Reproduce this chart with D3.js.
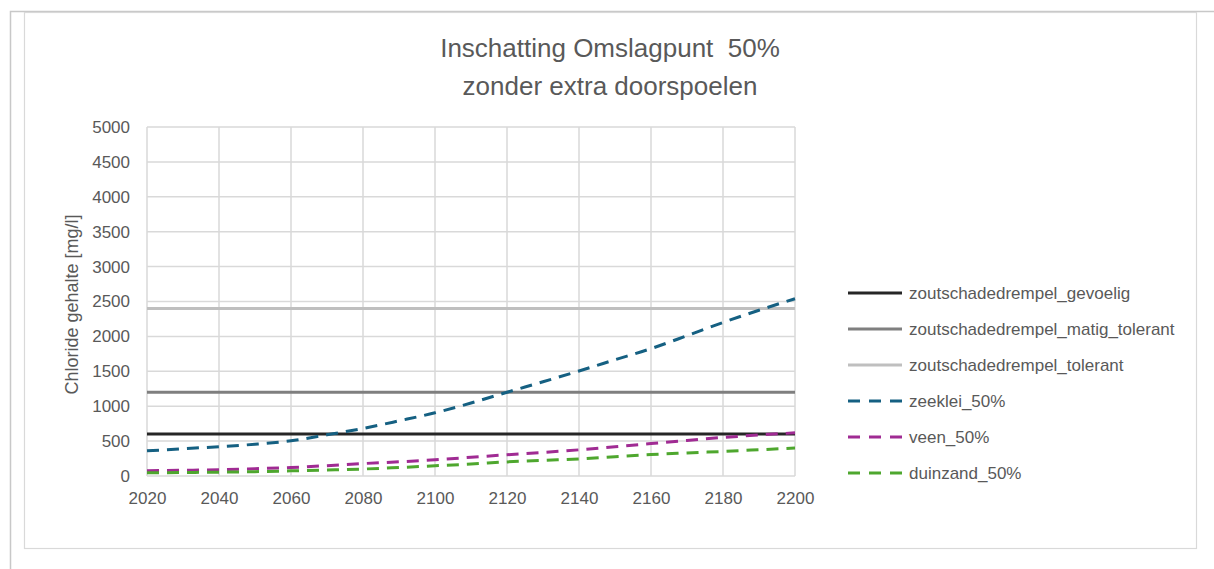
<!DOCTYPE html>
<html>
<head>
<meta charset="utf-8">
<script src="https://cdn.jsdelivr.net/npm/d3@7"></script>
<style>
  body { margin: 0; background: #fff; }
  text { font-family: "Liberation Sans", Arial, sans-serif; fill: #595959; }
</style>
</head>
<body>
<div id="chart"></div>
<script>
// jaren (x-as)
var years = [2020, 2030, 2040, 2050, 2060, 2070, 2080, 2090, 2100, 2110,
             2120, 2130, 2140, 2150, 2160, 2170, 2180, 2190, 2200];

// drempels (constant)
var gevoelig = 600;
var matigTolerant = 1200;
var tolerant = 2400;

// geschatte reeksen
var zeeklei = [360, 390, 420, 455, 505, 590, 681, 790, 905, 1045,
               1200, 1350, 1505, 1665, 1825, 2010, 2200, 2375, 2540];
var veen = [75, 82, 90, 105, 122, 148, 178, 203, 232, 268,
            305, 338, 375, 420, 465, 510, 552, 588, 618];
var duinzand = [45, 50, 55, 62, 74, 86, 100, 122, 146, 172,
                202, 225, 245, 277, 307, 330, 352, 376, 400];

var yTicks = [0, 500, 1000, 1500, 2000, 2500, 3000, 3500, 4000, 4500, 5000];
var xTicks = [2020, 2040, 2060, 2080, 2100, 2120, 2140, 2160, 2180, 2200];

var width = 1214, height = 569;
var margin = {top: 127, left: 147, right: 419, bottom: 93};
var plotW = width - margin.left - margin.right,
    plotH = height - margin.top - margin.bottom;

var xScale = d3.scaleLinear().domain([2020, 2200]).range([0, plotW]);
var yScale = d3.scaleLinear().domain([0, 5000]).range([plotH, 0]);

var series = [
  {name: 'zoutschadedrempel_gevoelig', values: years.map(function(){ return gevoelig; }), color: '#262626', dash: null},
  {name: 'zoutschadedrempel_matig_tolerant', values: years.map(function(){ return matigTolerant; }), color: '#7f7f7f', dash: null},
  {name: 'zoutschadedrempel_tolerant', values: years.map(function(){ return tolerant; }), color: '#bfbfbf', dash: null},
  {name: 'zeeklei_50%', values: zeeklei, color: '#156082', dash: '12,8'},
  {name: 'veen_50%', values: veen, color: '#a02b93', dash: '12,8'},
  {name: 'duinzand_50%', values: duinzand, color: '#4ea72e', dash: '12,8'}
];

var svg = d3.select('#chart').append('svg')
  .attr('width', width)
  .attr('height', height);

// buitenkader
svg.append('path')
  .attr('d', 'M10.5,569 L10.5,11.5 L1214,11.5')
  .style('fill', 'none')
  .style('stroke', '#c8c8c8')
  .style('stroke-width', 1.5);
svg.append('rect')
  .attr('x', 24.5).attr('y', 12.5)
  .attr('width', 1172).attr('height', 536)
  .style('fill', '#fff')
  .style('stroke', '#d9d9d9')
  .style('stroke-width', 1.2);

// titel
var title = svg.append('text')
  .attr('x', 610).attr('y', 57)
  .attr('text-anchor', 'middle')
  .style('font-size', '26px')
  .style('white-space', 'pre');
title.append('tspan').attr('x', 610).text('Inschatting Omslagpunt  50%');
title.append('tspan').attr('x', 610).attr('dy', 38).text('zonder extra doorspoelen');

var g = svg.append('g')
  .attr('transform', 'translate(' + margin.left + ',' + margin.top + ')');

// rasterlijnen
g.selectAll('line.hgrid').data(yTicks).enter().append('line')
  .attr('class', 'hgrid')
  .attr('x1', 0).attr('x2', plotW)
  .attr('y1', function(d){ return yScale(d); })
  .attr('y2', function(d){ return yScale(d); })
  .style('stroke', '#d9d9d9')
  .style('stroke-width', 1.5);
g.selectAll('line.vgrid').data(xTicks).enter().append('line')
  .attr('class', 'vgrid')
  .attr('y1', 0).attr('y2', plotH)
  .attr('x1', function(d){ return xScale(d); })
  .attr('x2', function(d){ return xScale(d); })
  .style('stroke', '#d9d9d9')
  .style('stroke-width', 1.5);

// assen
var yAxis = d3.axisLeft(yScale).tickValues(yTicks).tickSize(0).tickPadding(17).tickFormat(d3.format('d'));
var yG = g.append('g').call(yAxis);
yG.select('.domain').remove();
yG.selectAll('text').style('font-size', '17px').style('fill', '#595959').style('font-family', '"Liberation Sans", Arial, sans-serif');

var xAxis = d3.axisBottom(xScale).tickValues(xTicks).tickSize(0).tickPadding(16).tickFormat(d3.format('d'));
var xG = g.append('g').attr('transform', 'translate(0,' + plotH + ')').call(xAxis);
xG.select('.domain').remove();
xG.selectAll('text').style('font-size', '17px').style('fill', '#595959').style('font-family', '"Liberation Sans", Arial, sans-serif');

svg.append('text')
  .attr('transform', 'translate(78,' + (margin.top + plotH / 2 + 3) + ') rotate(-90)')
  .attr('text-anchor', 'middle')
  .style('font-size', '18px')
  .text('Chloride gehalte [mg/l]');

// lijnen
var line = d3.line()
  .x(function(d, i){ return xScale(years[i]); })
  .y(function(d){ return yScale(d); })
  .curve(d3.curveMonotoneX);

g.selectAll('path.serie').data(series).enter().append('path')
  .attr('class', 'serie')
  .attr('d', function(d){ return line(d.values); })
  .style('fill', 'none')
  .style('stroke', function(d){ return d.color; })
  .style('stroke-width', 3)
  .style('stroke-dasharray', function(d){ return d.dash; });

// legenda
var legend = svg.append('g').attr('transform', 'translate(848,293)');
var item = legend.selectAll('g').data(series).enter().append('g')
  .attr('transform', function(d, i){ return 'translate(0,' + (i * 36) + ')'; });
item.append('line')
  .attr('x1', 0).attr('x2', 54).attr('y1', 0).attr('y2', 0)
  .style('stroke', function(d){ return d.color; })
  .style('stroke-width', 3)
  .style('stroke-dasharray', function(d){ return d.dash ? '12,9' : null; });
item.append('text')
  .attr('x', 61).attr('y', 0).attr('dy', '0.35em')
  .style('font-size', '17px')
  .text(function(d){ return d.name; });
</script>
</body>
</html>
